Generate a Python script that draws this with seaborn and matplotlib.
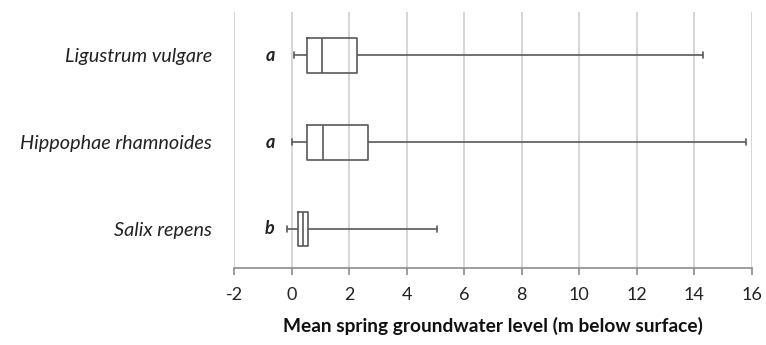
import numpy as np
import pandas as pd
import matplotlib
matplotlib.use("Agg")
import matplotlib.pyplot as plt
import seaborn as sns

species = ["Ligustrum vulgare", "Hippophae rhamnoides", "Salix repens"]
group_letters = ["a", "a", "b"]
wmin = [0.10, 0.00, -0.17]
q1 = [0.54, 0.54, 0.21]
median = [1.07, 1.09, 0.39]
q3 = [2.28, 2.65, 0.56]
wmax = [14.3, 15.8, 5.07]
xticks = [-2, 0, 2, 4, 6, 8, 10, 12, 14, 16]
xlabel = "Mean spring groundwater level (m below surface)"

rows = []
for i, s in enumerate(species):
    for v in (wmin[i], q1[i], median[i], q3[i], wmax[i]):
        rows.append({"species": s, "level": v})
df = pd.DataFrame(rows)

sns.set_theme(style="white")
plt.rcParams["font.family"] = ["Lato", "DejaVu Sans"]

fig = plt.figure(figsize=(7.66, 3.45), dpi=100)
ax = fig.add_axes([234/766, 1 - 268/345, (752-234)/766, (268-12)/345])

line_col = "#595959"
sns.boxplot(data=df, x="level", y="species", order=species, orient="h",
            whis=(0, 100), width=0.4, fill=False, color=line_col,
            linewidth=1.2, capwidths=0.07, ax=ax)

ax.set_xlim(-2, 16)
ax.set_ylim(2.45, -0.5)
ax.set_xticks(xticks)
ax.set_xticklabels([str(t) for t in xticks], fontsize=13, color="#222222")
ax.grid(axis="x", color="#d0d0d0", linewidth=1.2)
ax.set_axisbelow(True)
for sp in ["top", "right", "left"]:
    ax.spines[sp].set_visible(False)
ax.spines["bottom"].set_color("#8c8c8c")
ax.spines["bottom"].set_linewidth(1.2)
ax.tick_params(axis="x", bottom=True, length=5, width=1.2, color="#8c8c8c", pad=9)
ax.tick_params(axis="y", left=False, pad=10)
ax.set_yticks(range(len(species)))
ax.set_yticklabels(species, fontsize=14.3, style="italic", color="#222222")
ax.set_ylabel("")
ax.set_xlabel(xlabel, fontsize=13.8, fontweight="bold", color="#111111", labelpad=10)

for i, letter in enumerate(group_letters):
    ax.text(-0.75, i, letter, ha="center", va="center", fontsize=13,
            style="italic", fontweight="bold", color="#222222")

fig.savefig("out.png", dpi=100)
